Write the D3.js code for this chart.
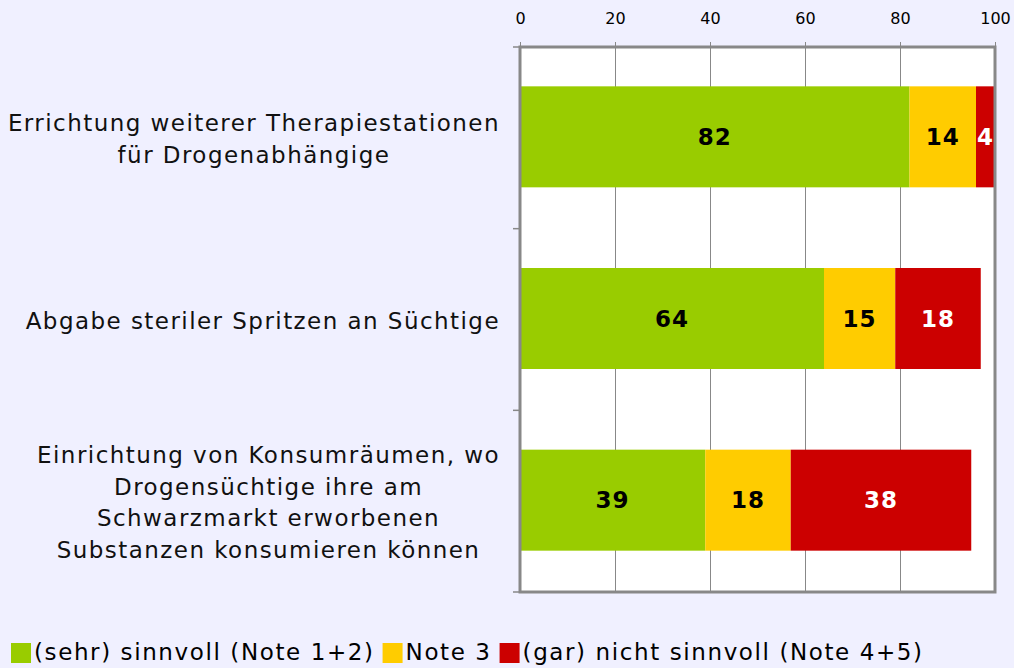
<!DOCTYPE html>
<html><head><meta charset="utf-8">
<script src="https://cdn.jsdelivr.net/npm/d3@7"></script>
<style>
html,body{margin:0;padding:0;background:#F0F0FF;}
svg{display:block;}
</style></head><body>
<script>
const categories = [
  ["Errichtung weiterer Therapiestationen", "für Drogenabhängige"],
  ["Abgabe steriler Spritzen an Süchtige"],
  ["Einrichtung von Konsumräumen, wo", "Drogensüchtige ihre am", "Schwarzmarkt erworbenen", "Substanzen konsumieren können"]
];
const seriesNames = ["(sehr) sinnvoll (Note 1+2)", "Note 3", "(gar) nicht sinnvoll (Note 4+5)"];
const sinnvoll = [82, 64, 39];
const note3 = [14, 15, 18];
const nichtSinnvoll = [4, 18, 38];
const xTicks = [0, 20, 40, 60, 80, 100];
const colors = ["#99CC00", "#FFCC00", "#CC0000"];
const labelColors = ["#000", "#000", "#fff"];

const W = 1014, H = 668;
const svg = d3.select("body").append("svg").attr("width", W).attr("height", H);
svg.append("rect").attr("width", W).attr("height", H).attr("fill", "#F0F0FF");

const pLeft = 520, pRight = 995, pTop = 47, pBottom = 592;
const x = d3.scaleLinear().domain([0, 100]).range([pLeft, pRight]);
const y = d3.scaleBand().domain(d3.range(categories.length)).range([pTop, pBottom]).paddingInner(0).paddingOuter(0);

// plot area
svg.append("rect").attr("x", pLeft).attr("y", pTop).attr("width", pRight - pLeft).attr("height", pBottom - pTop).attr("fill", "#fff");

// gridlines
svg.append("g").selectAll("line").data(xTicks.slice(1, -1)).join("line")
  .attr("x1", d => x(d)).attr("x2", d => x(d)).attr("y1", pTop).attr("y2", pBottom)
  .attr("stroke", "#888").attr("stroke-width", 1).attr("shape-rendering", "crispEdges");

// bars
const data = categories.map((c, i) => [sinnvoll[i], note3[i], nichtSinnvoll[i]]);
const barH = 101;
data.forEach((vals, i) => {
  let acc = 0;
  const cy = y(i) + y.bandwidth() / 2 - 1;
  vals.forEach((v, j) => {
    const x0 = x(acc), x1 = x(acc + v);
    svg.append("rect").attr("x", x0).attr("y", cy - barH / 2).attr("width", x1 - x0).attr("height", barH)
      .attr("fill", colors[j]);
    svg.append("text").attr("x", (x0 + x1) / 2).attr("y", cy).attr("dy", "0.36em")
      .attr("text-anchor", "middle").attr("font-family", "DejaVu Sans").attr("font-weight", "bold")
      .attr("font-size", 23).attr("letter-spacing", 1).attr("fill", labelColors[j]).text(v);
    acc += v;
  });
});

// frame
svg.append("rect").attr("x", pLeft).attr("y", pTop).attr("width", pRight - pLeft).attr("height", pBottom - pTop)
  .attr("fill", "none").attr("stroke", "#888").attr("stroke-width", 3);

// top axis
const axisTop = d3.axisTop(x).tickValues(xTicks).tickSize(4).tickPadding(18).tickFormat(d3.format("d"));
const ag = svg.append("g").attr("transform", `translate(0,${pTop - 1})`).call(axisTop);
ag.select(".domain").remove();
ag.selectAll(".tick line").attr("stroke", "#888");
ag.selectAll(".tick text").style("font-family", "DejaVu Sans").style("font-size", "16px").attr("fill", "#000");

// left ticks at category boundaries
const bounds = d3.range(categories.length + 1).map(i => pTop + i * y.bandwidth());
svg.append("g").selectAll("line").data(bounds).join("line")
  .attr("x1", pLeft - 7).attr("x2", pLeft).attr("y1", d => d).attr("y2", d => d)
  .attr("stroke", "#888").attr("stroke-width", 1.5);

// category labels
const lineH = 31.5;
categories.forEach((lines, i) => {
  const g = svg.append("g");
  const cy = y(i) + y.bandwidth() / 2;
  const texts = lines.map((l, k) => g.append("text")
    .attr("y", cy + (k - (lines.length - 1) / 2) * lineH).attr("dy", "0.4em")
    .attr("font-family", "DejaVu Sans").attr("font-size", 23).attr("letter-spacing", 1.45)
    .attr("text-anchor", "middle").attr("fill", "#111").text(l));
  const maxW = d3.max(texts, t => t.node().getComputedTextLength());
  texts.forEach(t => t.attr("x", 500 - maxW / 2));
});

// legend
let lx = 11;
const ly = 653;
seriesNames.forEach((n, j) => {
  svg.append("rect").attr("x", lx).attr("y", ly - 10).attr("width", 20).attr("height", 20).attr("fill", colors[j]);
  const t = svg.append("text").attr("x", lx + 23).attr("y", ly).attr("dy", "0.3em")
    .attr("font-family", "DejaVu Sans").attr("font-size", 23).attr("letter-spacing", 1.6).attr("fill", "#000").text(n);
  lx += 23 + t.node().getComputedTextLength() + 8;
});
</script>
</body></html>
